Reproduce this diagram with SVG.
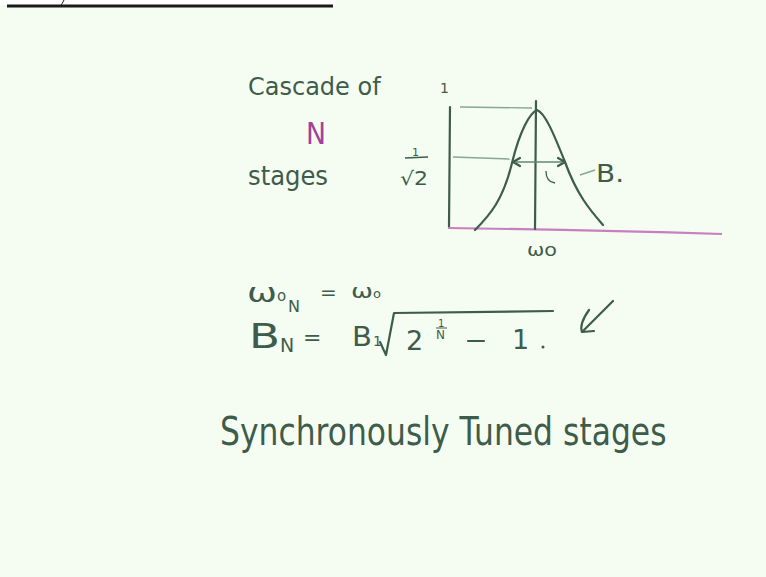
<svg xmlns="http://www.w3.org/2000/svg" width="766" height="577" viewBox="0 0 766 577">
<style>
.ink{font-family:"DejaVu Sans","Liberation Sans",sans-serif;fill:#3e5c4a}
.ln{stroke:#3e5c4a;fill:none;stroke-width:2.2;stroke-linecap:round;stroke-linejoin:round}
.lt{stroke:#86a890;fill:none;stroke-width:1.4}
</style>
<rect width="766" height="577" fill="#f5fcf2"/>
<rect x="0" y="0" width="336" height="5" fill="#ffffff"/>
<line x1="7" y1="6" x2="333" y2="6" stroke="#1a1a1a" stroke-width="3"/>
<path d="M64 0 Q62 4 60 7" stroke="#1a1a1a" stroke-width="1" fill="none"/>
<text class="ink" x="248" y="95" font-size="24">Cascade of</text>
<text x="306" y="144" font-size="30" font-family="DejaVu Sans,sans-serif" fill="#a2409a" textLength="20" lengthAdjust="spacingAndGlyphs">N</text>
<text class="ink" x="248" y="185" font-size="26" textLength="80" lengthAdjust="spacingAndGlyphs">stages</text>
<text class="ink" x="440" y="93" font-size="14">1</text>
<text class="ink" x="412" y="156" font-size="11">1</text>
<line x1="405" y1="158" x2="428" y2="157" stroke="#3e5c4a" stroke-width="1.3"/>
<text class="ink" x="400" y="185" font-size="19" textLength="28" lengthAdjust="spacingAndGlyphs">√2</text>
<path class="ln" d="M450 107 L449 227"/>
<path d="M448 228 Q590 230 722 234" stroke="#c77fc0" stroke-width="2.2" fill="none"/>
<path class="ln" d="M536 101 L535 229" stroke-width="1.6"/>
<line class="lt" x1="460" y1="107" x2="532" y2="108"/>
<line class="lt" x1="453" y1="157" x2="510" y2="159"/>
<path class="ln" d="M475 230 C490 215 503 200 512 163 C520 130 530 113 537 110 C545 113 553 132 565 162 C577 195 590 210 603 225"/>
<line x1="515" y1="162" x2="563" y2="162" stroke="#5f8a70" stroke-width="1.6"/>
<path class="ln" d="M520 158 L513 162 L520 166 M558 158 L565 162 L558 166" stroke-width="1.5"/>
<path d="M546 171 Q546 182 555 183" stroke="#3e5c4a" stroke-width="1.3" fill="none"/>
<line class="lt" x1="580" y1="175" x2="595" y2="170"/>
<text class="ink" x="596" y="182" font-size="25" textLength="28" lengthAdjust="spacingAndGlyphs">B.</text>
<text class="ink" x="527" y="256" font-size="17" textLength="30" lengthAdjust="spacingAndGlyphs">ωo</text>
<text class="ink" x="247" y="302" font-size="27" textLength="30" lengthAdjust="spacingAndGlyphs">ω</text>
<text class="ink" x="277" y="301" font-size="15">o</text>
<text class="ink" x="288" y="312" font-size="16">N</text>
<text class="ink" x="320" y="299" font-size="20">=</text>
<text class="ink" x="351" y="298" font-size="20" textLength="22" lengthAdjust="spacingAndGlyphs">ω</text>
<text class="ink" x="373" y="298" font-size="13">o</text>
<text class="ink" x="249" y="348" font-size="34" textLength="31" lengthAdjust="spacingAndGlyphs">B</text>
<text class="ink" x="280" y="352" font-size="19">N</text>
<text class="ink" x="303" y="345" font-size="22">=</text>
<text class="ink" x="352" y="346" font-size="27" textLength="20" lengthAdjust="spacingAndGlyphs">B</text>
<text class="ink" x="373" y="346" font-size="14">1</text>
<path class="ln" d="M380 342 L386 355 L394 313 L553 311" stroke-width="1.8"/>
<text class="ink" x="406" y="350" font-size="27">2</text>
<text class="ink" x="438" y="327" font-size="10">1</text>
<line x1="436" y1="328" x2="447" y2="328" stroke="#3e5c4a" stroke-width="1"/>
<text class="ink" x="436" y="339" font-size="12">N</text>
<line x1="468" y1="341" x2="484" y2="341" stroke="#3e5c4a" stroke-width="2.2" stroke-linecap="round"/>
<text class="ink" x="512" y="349" font-size="27">1</text>
<circle cx="543" cy="347" r="1.5" fill="#3e5c4a"/>
<path class="ln" d="M589 310 Q579 324 582 332 L594 331 M613 301 L584 330" stroke-width="2.2"/>
<text class="ink" font-size="31.4" transform="translate(220 445) scale(1 1.22)">Synchronously Tuned stages</text>
</svg>
